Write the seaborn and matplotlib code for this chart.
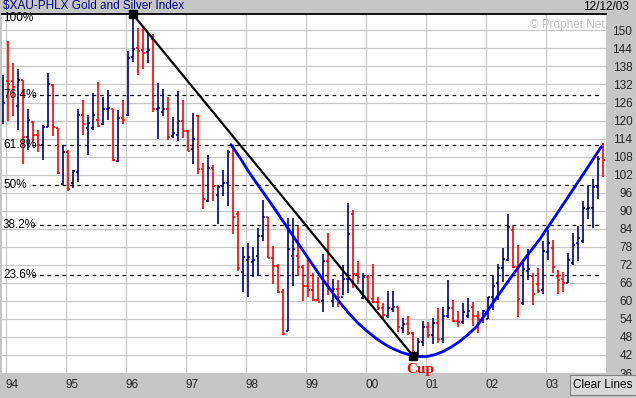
import numpy as np
import pandas as pd
import matplotlib
matplotlib.use("Agg")
import matplotlib.pyplot as plt
import matplotlib.transforms as mtransforms
import seaborn as sns

# monthly OHLC bars, Dec 1993 .. Dec 2003
months = pd.date_range("1993-12-01", "2003-12-01", freq="MS")

opens = [120, 133, 133, 125, 133.4, 114.4, 119.5, 115.3, 112, 118, 131.7, 117.5, 98.8,
         109.4, 99.2, 103, 122, 117.6, 117.6, 120.3, 118.7, 123.7, 123.7, 106.4, 120.9,
         121.7, 141, 144, 143.5, 142.8, 147.2, 123.7, 123, 124, 115, 115.3, 119.8,
         116.4, 110.6, 121.4, 104, 93.1, 104.2, 95.3, 98.1, 99.2, 111.1, 89, 69.5,
         73.5, 73, 75, 81.7, 87.9, 74.2, 71.7, 62.8, 50.1, 75, 75, 71.2,
         64.8, 63.7, 60.3, 59.8, 73.3, 60, 63.9, 61.4, 67.2, 89, 68.9, 60.9,
         68.1, 60.5, 59.6, 57.6, 54.8, 57.4, 57.9, 50.9, 52.3, 49.2, 42.8, 46.4,
         51.4, 48.7, 52.6, 47.2, 54.8, 57.6, 53.4, 53.1, 55, 57.9, 54.8, 53.9,
         53.9, 61.4, 65.9, 70.8, 73.5, 83.7, 71.4, 59.4, 70, 68.3, 65.7, 63.5,
         76.4, 77.6, 68.4, 67.2, 66.1, 72.6, 79.2, 79.8, 90.5, 90.9, 97.9, 110.9]
highs = [135.3, 146.4, 139.2, 137.2, 133.4, 124, 119.8, 116.8, 118.6, 135.9, 132, 117.6, 111.7,
         110.3, 103.7, 123.9, 127, 122, 129.2, 132.8, 127.9, 130.3, 123.9, 123.4, 126.8,
         143.1, 155.3, 150.9, 151.2, 149.4, 148.7, 132.6, 130.6, 127.8, 121.1, 129.8, 127,
         116.7, 122.6, 121.7, 105.9, 108.7, 105.3, 98.4, 103.7, 110.1, 112, 89.8, 78,
         79.2, 77.9, 84.4, 93.7, 87.9, 78.3, 72.3, 63.9, 87.6, 87.6, 85, 72,
         74.2, 69.2, 68.1, 75.7, 82.6, 67.2, 67, 72, 92.6, 90.3, 73.3, 69.2,
         68.6, 72.3, 61.4, 59.4, 63.3, 63.3, 58.1, 54.2, 55, 49.8, 47.5, 53.3,
         53.1, 54.2, 57.6, 58.1, 66.8, 60.3, 56.7, 59.2, 60.9, 59.6, 56.7, 57,
         61.4, 68.3, 72.2, 77.6, 89, 84.8, 78.7, 73.7, 77.2, 69.4, 71.1, 79.8,
         83.5, 80.3, 70.3, 69.6, 75.9, 82.6, 85, 93.1, 98.3, 100.6, 108.3, 112.6]
lows = [119, 119.8, 121.4, 116.8, 105.6, 110.1, 112.6, 109.4, 106.8, 117.9, 114.8, 102.3, 98.7,
        96.4, 97.6, 99.4, 115.3, 108.4, 117, 117.9, 118.4, 120.1, 106.4, 106.2, 118.7,
        121.5, 139.4, 135, 137.2, 139.2, 122.8, 113.7, 121.4, 113.4, 114.2, 113.3, 114.2,
        109.8, 105.6, 102.2, 90.6, 92.9, 93.1, 85.6, 94.8, 91.4, 82.2, 70, 63.1,
        61.2, 68.1, 68.4, 80, 74.4, 65.7, 62.6, 48.7, 50.1, 64.8, 68.3, 60.1,
        61.4, 59.8, 59.8, 56.4, 61.8, 58.1, 57.9, 61.8, 62.6, 64.2, 65.6, 60.7,
        59.2, 59.2, 57, 54.2, 54.2, 56.4, 49.8, 49.4, 48.7, 41.7, 42, 45,
        47.5, 45.7, 45.9, 45.9, 54.2, 53.1, 51.4, 52.4, 54.2, 51.5, 49.2, 52.6,
        53.9, 57, 60.3, 66.4, 73.1, 70.9, 54.6, 58.7, 67, 58.7, 62.6, 62.3,
        73.5, 69.4, 62.2, 62.8, 65.9, 72, 73.1, 79.4, 87.2, 84.2, 93.9, 101.2]
closes = [126, 132, 131, 133.4, 114.4, 120.3, 115.3, 111.8, 118, 132, 117.8, 102.6, 109.4,
          97.2, 103.1, 122, 118.7, 119.2, 122, 118.1, 123.9, 124.2, 106.8, 120.9, 120.3,
          140.9, 143.7, 143, 142.5, 143.4, 123.7, 124.3, 124, 114.6, 115.7, 120, 116.4,
          110, 113.7, 103.9, 93.9, 104.2, 98.3, 98, 99.2, 109.4, 87.9, 70.9, 74.5,
          74.5, 73.5, 81.7, 87.9, 74.2, 71.7, 62.8, 49, 77.3, 77.3, 71.2, 65,
          63.7, 60.3, 59.6, 73.3, 63.9, 64, 61.4, 67.2, 82.3, 68.9, 68.1, 68.1,
          59.8, 59.6, 57.6, 55.3, 57.6, 57.9, 51.4, 52.3, 49.2, 43.1, 46.4, 51.4,
          48.7, 52.6, 47.2, 54.8, 57.6, 53.4, 53.1, 56.4, 56.7, 54.8, 53.9, 56.7,
          61.4, 65, 70.8, 73.9, 84.6, 71.4, 60.7, 70.6, 70.6, 62.3, 63.4, 76.5,
          79.2, 71.4, 67, 65.9, 73.7, 78.7, 80.9, 90.9, 91, 97.9, 107.2, 106.8]

year_labels = ["94", "95", "96", "97", "98", "99", "00", "01", "02", "03"]
price_ticks = list(range(36, 151, 6))
fib_pcts = [100, 76.4, 61.8, 50, 38.2, 23.6]
fib_names = ["100%", "76.4%", "61.8%", "50%", "38.2%", "23.6%"]

# hand drawn cup (bar position, price)
cup_pos = [45.6, 47.4, 49.4, 54.1, 60.7, 64.0, 67.4, 69.2, 71.0, 72.9, 74.7, 76.4,
           78.1, 79.8, 81.4, 83.0, 84.7, 86.4, 88.1, 89.8, 91.4, 93.0, 94.7, 96.4,
           98.1, 99.8, 101.4, 103.0, 104.7, 106.0, 107.4, 110.5, 113.6, 116.7, 119.7]
cup_val = [112, 107.6, 102.3, 91.2, 75.0, 67.0, 59.4, 55.8, 52.6, 49.8, 47.4, 45.5,
           44.0, 42.8, 42.0, 41.5, 41.5, 42.1, 43.2, 44.8, 46.6, 48.8, 51.4, 55.4,
           59.6, 63.6, 67.4, 71.0, 74.8, 77.6, 80.6, 88.3, 96.0, 103.8, 111.4]

NAVY, RED, GRID, PANEL = "#000080", "#ff0000", "#c8c8c8", "#c6c6c6"
W, H = 636, 398

sns.set_theme(style="white")
plt.rcParams["font.family"] = ["Liberation Sans", "DejaVu Sans"]

df = pd.DataFrame({"month": months, "open": opens, "high": highs,
                   "low": lows, "close": closes})
df["pos"] = np.arange(len(df))
df["color"] = np.where(df["close"] >= df["open"], NAVY, RED)

fig = plt.figure(figsize=(W / 100, H / 100), dpi=100)
fig.patch.set_facecolor(PANEL)
ax = fig.add_axes([1.5 / W, 25 / H, 604.5 / W, 359 / H])
ax.set_facecolor("white")

hi, lo = df["high"].max(), df["low"].min()
ax.set_xlim(-0.3, 120.6)
ax.set_ylim(36, hi + 0.15)

# grid
year_pos = [0.5 + 12 * i for i in range(len(year_labels))]
ax.set_xticks(year_pos)
ax.set_xticklabels(year_labels, ha="left", fontsize=8.5)
ax.set_yticks(price_ticks)
ax.set_yticklabels([str(v) for v in price_ticks], ha="right", fontsize=8.5)
ax.yaxis.tick_right()
ax.tick_params(axis="y", length=0, pad=19)
ax.tick_params(axis="x", length=0, pad=4)
ax.grid(True, color=GRID, lw=0.9)
ax.set_axisbelow(True)
for s in ["left", "right", "bottom"]:
    ax.spines[s].set_visible(False)
ax.spines["top"].set_color("black")
ax.spines["top"].set_linewidth(1.3)

# fibonacci retracement levels
fig_y = mtransforms.blended_transform_factory(fig.transFigure, ax.transData)
for pct, name in zip(fib_pcts, fib_names):
    lvl = lo + pct / 100 * (hi - lo)
    if pct < 100:
        ax.hlines(lvl, 5.8, 119.4, colors="black", lw=0.9, linestyles=(0, (3, 3)))
        ax.text(3 / W, lvl, name, transform=fig_y, fontsize=8.5, va="center",
                ha="left", color="black")
    else:
        ax.text(3 / W, lvl - 1.3, name, transform=fig_y, fontsize=8.5, va="center",
                ha="left", color="black", zorder=5)

# OHLC bars
tick = 0.45
ax.vlines(df["pos"], df["low"], df["high"], colors=df["color"], lw=1.2)
ax.hlines(df["open"], df["pos"] - tick, df["pos"], colors=df["color"], lw=1.2)
ax.hlines(df["close"], df["pos"], df["pos"] + tick, colors=df["color"], lw=1.2)

# cup curve and trend line
sns.lineplot(x=cup_pos, y=cup_val, ax=ax, color="#0000ff", lw=2.0, sort=False,
             estimator=None)
top_i, bot_i = int(df["high"].idxmax()), int(df["low"].idxmin())
trend = pd.DataFrame({"pos": [top_i, bot_i],
                      "price": [df.loc[top_i, "high"], df.loc[bot_i, "low"]]})
sns.lineplot(data=trend, x="pos", y="price", ax=ax, color="black", lw=1.6,
             sort=False, estimator=None)
ax.plot(trend["pos"], trend["price"], ls="none", marker="s", ms=6,
        color="black", clip_on=False, zorder=6)
ax.text(bot_i + 1.4, 37.3, "Cup", color=RED, fontsize=11, fontweight="bold",
        family=["Liberation Serif", "DejaVu Serif"], ha="center", va="center")
ax.set_xlabel("")
ax.set_ylabel("")

# header / footer texts
fig.text(3 / W, 1 - 6.5 / H, "$XAU-PHLX Gold and Silver Index", color=NAVY,
         fontsize=8.5, va="center", ha="left")
fig.text(629 / W, 1 - 6.5 / H, "12/12/03", color="black", fontsize=8.5,
         va="center", ha="right")
fig.text(605 / W, 1 - 25 / H, "\u00a9 Prophet.Net", color="#c0c0c0",
         fontsize=8.5, va="center", ha="right")
fig.text(603 / W, 1 - 385 / H, "Clear Lines", color="black", fontsize=8.5,
         va="center", ha="center",
         bbox=dict(boxstyle="square,pad=0.3", fc="#d8d8d8", ec="#808080", lw=0.8))

fig.savefig("out.png", dpi=100, facecolor=fig.get_facecolor())
